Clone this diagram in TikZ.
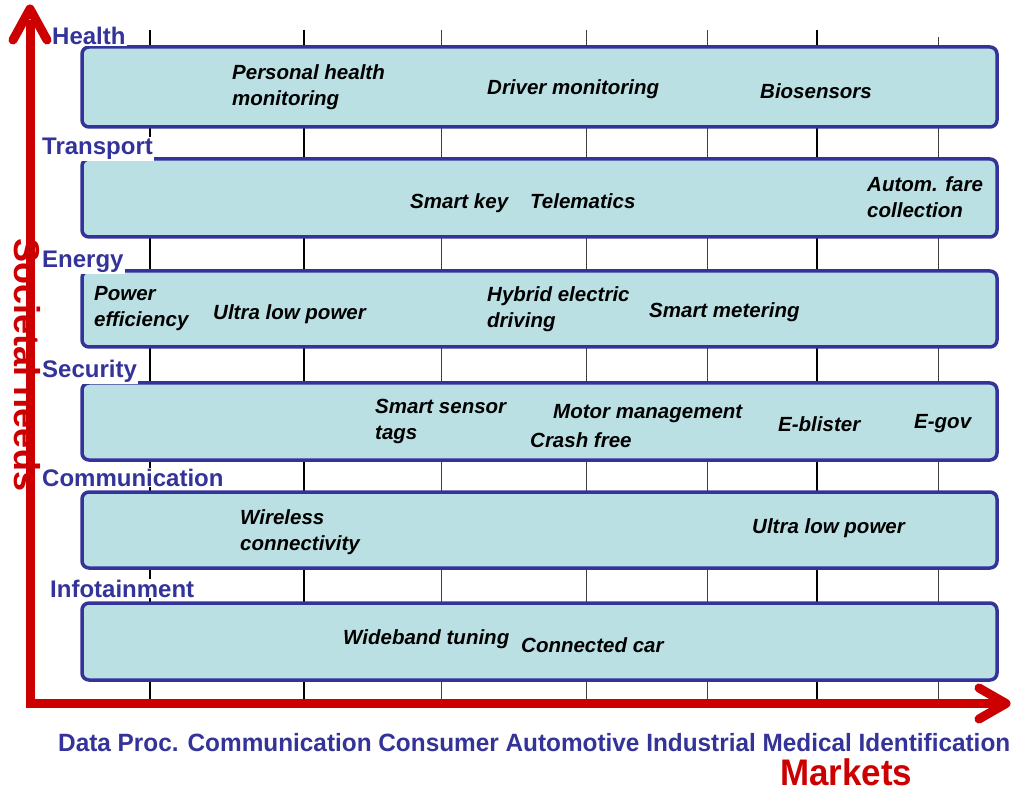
\documentclass[tikz,border=0pt]{standalone}
\usepackage{fontspec}
\setmainfont{Liberation Sans}
\usepackage{graphicx}
\definecolor{axisred}{HTML}{CC0000}
\definecolor{rowblue}{HTML}{333399}
\definecolor{boxfill}{HTML}{BAE0E3}
\begin{document}
\begin{tikzpicture}[x=1pt,y=-1pt,
  rowbox/.style={draw=rowblue,fill=boxfill,line width=3.5pt,rounded corners=7pt},
  rowlabel/.style={anchor=base west,inner sep=1pt,fill=white,text=rowblue,font=\fontsize{24}{28}\selectfont\bfseries},
  item/.style={anchor=west,inner sep=0pt,align=left,font=\fontsize{20.5}{26}\selectfont\bfseries\itshape},
  gridthick/.style={draw=black,line width=2pt},
  gridthin/.style={draw=black!75,line width=0.9pt},
  axis/.style={draw=axisred,line width=9pt},
  barb/.style={draw=axisred,line width=9pt,line cap=round,line join=round}]
\useasboundingbox (0,0) rectangle (1012,791);
% grid lines
\foreach \gx in {150,304,817} \draw[gridthick] (\gx,30) -- (\gx,699);
\foreach \gx in {441,586,707} \draw[gridthin] (\gx,30) -- (\gx,699);
\draw[gridthin] (938,37) -- (938,699);
% rows
\draw[rowbox] (82,47) rectangle (997,127);
\draw[rowbox] (82,159) rectangle (997,237);
\draw[rowbox] (82,271) rectangle (997,347);
\draw[rowbox] (82,383) rectangle (997,460);
\draw[rowbox] (82,492) rectangle (997,568);
\draw[rowbox] (82,603) rectangle (997,680);
% row labels
\node[rowlabel] (lhealth) at (51,45) {Health};
\node[rowlabel] (ltransport) at (41,155) {Transport};
\node[rowlabel] (lenergy) at (41,268) {Energy};
\node[rowlabel] (lsecurity) at (41,378) {Security};
\node[rowlabel] (lcomm) at (41,486) {Communication};
\node[rowlabel] (linfo) at (49,597) {Infotainment};
% items
\node[item] (i1) at (232,87) {Personal health\\monitoring};
\node[item] (i2) at (487,89) {Driver monitoring};
\node[item] (i3) at (760,91) {Biosensors};
\node[item] (i4) at (410,203) {Smart key};
\node[item] (i5) at (530,201) {Telematics};
\node[item] (i6) at (867,197) {Autom. fare\\collection};
\node[item] (i7) at (94,309) {Power\\efficiency};
\node[item] (i8) at (213,314) {Ultra low power};
\node[item] (i9) at (487,309) {Hybrid electric\\driving};
\node[item] (i10) at (649,312) {Smart metering};
\node[item] (i11) at (375,421) {Smart sensor\\tags};
\node[item] (i12) at (553,414) {Motor management};
\node[item] (i13) at (530,440) {Crash free};
\node[item] (i14) at (778,424) {E-blister};
\node[item] (i15) at (914,424) {E-gov};
\node[item] (i16) at (240,532) {Wireless\\connectivity};
\node[item] (i17) at (752,528) {Ultra low power};
\node[item] (i18) at (343,639) {Wideband tuning};
\node[item] (i19) at (521,645) {Connected car};
% vertical axis label (behind axis)
\node[rotate=-90,inner sep=0pt,text=axisred,font=\fontsize{36}{40}\selectfont\bfseries] (ylab) at (27,365) {Societal needs};
% axes
\coordinate (ytip) at (30,9);
\coordinate (origin) at (30,703.5);
\coordinate (xtip) at (1006,703.5);
\draw[axis,line join=miter] (30,20) -- (origin) -- (1000,703.5);
\draw[barb] (13,40) -- (ytip) -- (47,40);
\draw[barb] (979,688) -- (xtip) -- (979,719);
% market labels
\node[anchor=base west,inner sep=0pt,text=rowblue,font=\fontsize{25}{28}\selectfont\bfseries] (markets) at (58,751)
  {\resizebox{952pt}{\height}{Data Proc. Communication Consumer Automotive Industrial Medical Identification}};
\node[anchor=base west,inner sep=0pt,text=axisred,font=\fontsize{37}{40}\selectfont\bfseries] (mlab) at (780,785)
  {\resizebox{132pt}{\height}{Markets}};
\end{tikzpicture}
\end{document}
